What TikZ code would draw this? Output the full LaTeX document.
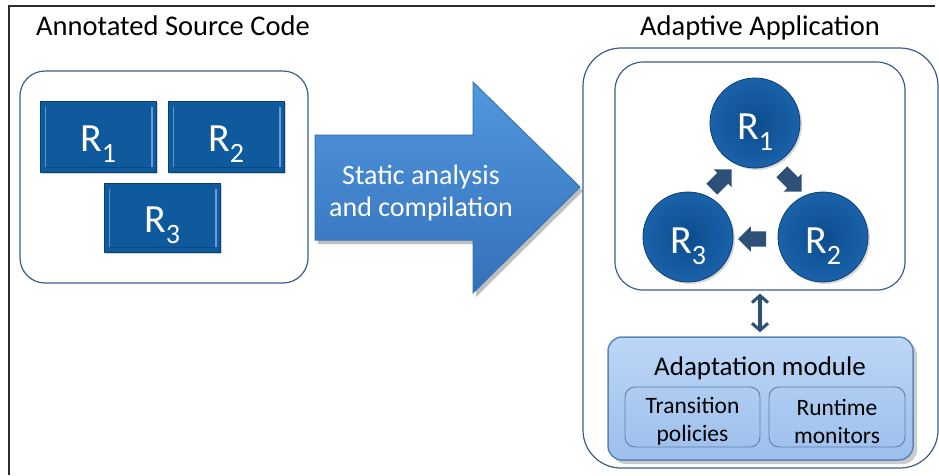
\documentclass[tikz,border=0pt]{standalone}
\usepackage{fontspec}
\setmainfont{Carlito}
\usetikzlibrary{shapes.arrows,shadows,arrows.meta}

\definecolor{framegray}{HTML}{2B2B2B}
\definecolor{boxline}{HTML}{3B5E86}
\definecolor{rface}{HTML}{0F5A9C}
\definecolor{redge}{HTML}{0A3F73}
\definecolor{rhigh}{HTML}{7FB0E0}
\definecolor{ballin}{HTML}{0C4C8E}
\definecolor{ballout}{HTML}{1A62AA}
\definecolor{smallarrow}{HTML}{2D5079}
\definecolor{bigtop}{HTML}{5198DF}
\definecolor{bigbot}{HTML}{3470B9}
\definecolor{bigedge}{HTML}{3A74B3}
\definecolor{modtop}{HTML}{BCD6F6}
\definecolor{modbot}{HTML}{9CBFEC}
\definecolor{modedge}{HTML}{5A86BC}
\definecolor{subedge}{HTML}{5E7FA6}

% R with a lowered, large subscript digit
\newcommand{\rsub}[1]{R\raisebox{-0.28em}{\fontsize{28}{28}\selectfont #1}}

\begin{document}
\begin{tikzpicture}[x=1pt,y=-1pt,
  title/.style={anchor=base west,font=\fontsize{28.5}{30}\selectfont,inner sep=0pt},
  container/.style={draw=boxline,line width=1.2pt,rounded corners=#1,inner sep=0pt},
  container/.default=25pt,
  rbox/.style={draw=redge,line width=1pt,fill=rface,inner sep=0pt,
    minimum width=116pt,minimum height=71pt,text=white,
    font=\fontsize{40}{42}\selectfont,text height=29pt,text depth=0pt,
    drop shadow={shadow xshift=2pt,shadow yshift=-2pt,opacity=0.35}},
  ball/.style={circle,draw=redge,line width=0.8pt,inner color=ballin,outer color=ballout,
    minimum size=90pt,inner sep=0pt,text=white,
    font=\fontsize{40}{42}\selectfont,text height=33pt,text depth=0pt,
    drop shadow={shadow xshift=2pt,shadow yshift=-2pt,opacity=0.3}},
  blockarrow/.style={single arrow,fill=smallarrow,draw=none,inner sep=7.5pt,
    minimum height=28pt,single arrow head extend=5pt,single arrow head indent=0pt},
  bigtext/.style={align=center,text=white,font=\fontsize{28}{32}\selectfont,inner sep=0pt},
  modbox/.style={draw=modedge,line width=1.5pt,rounded corners=14pt,
    top color=modtop,bottom color=modbot,inner sep=0pt,
    drop shadow={shadow xshift=4pt,shadow yshift=-4pt,opacity=0.4}},
  subbox/.style={draw=subedge,line width=0.9pt,rounded corners=10pt,inner sep=0pt,
    minimum height=60pt},
  subtext/.style={align=center,font=\fontsize{23.5}{28}\selectfont,inner sep=0pt},
  dblarrow/.style={smallarrow,line width=3.5pt,
    {Straight Barb[length=7pt,width=16pt,line width=3pt]}-{Straight Barb[length=7pt,width=16pt,line width=3pt]},
    shorten <=3pt,shorten >=4pt}
]
\useasboundingbox (0,0) rectangle (939,475);

% frame along the top and left sides
\draw[framegray,line width=1.3pt] (9,475) -- (9,6) -- (935,6);

% ---------- source side ----------
\node[title] (srctitle) at (36,35) {Annotated Source Code};
\node[container,minimum width=288pt,minimum height=212pt] (src) at (164,177) {};

\node[rbox] (r1) at (98,136.5) {\rsub{1}};
\node[rbox] (r2) at (226,136.5) {\rsub{2}};
\node[rbox,minimum height=69pt] (r3) at (162,217.5) {\rsub{3}};

% bevel highlights on the region boxes
\foreach \b in {r1,r2,r3}{
  \draw[rhigh,line width=1.4pt,opacity=0.7]
    ([shift={(6,6)}]\b.north west) -- ([shift={(6,-6)}]\b.south west);
  \draw[rhigh,line width=2pt,opacity=0.8]
    ([shift={(-5,6)}]\b.north east) -- ([shift={(-5,-6)}]\b.south east);
  \draw[redge,line width=1.2pt,opacity=0.6]
    ([shift={(6,-5)}]\b.south west) -- ([shift={(-6,-5)}]\b.south east);
}

% ---------- compilation arrow ----------
\fill[black,opacity=0.25] (318,139) -- (476,139) -- (476,86) -- (583,191)
  -- (476,297) -- (476,244) -- (318,244) -- cycle;
\shade[top color=bigtop,bottom color=bigbot,draw=bigedge,line width=1pt]
  (315,135) -- (473,135) -- (473,82) -- (580,187) -- (473,293) -- (473,240)
  -- (315,240) -- cycle;
\node[bigtext] (sa) at (421,193) {Static analysis\\and compilation};

% ---------- application side ----------
\node[title] (apptitle) at (640,35) {Adaptive Application};
\node[container=38pt,minimum width=355pt,minimum height=420pt] (app) at (760.5,258) {};
\node[container=28pt,minimum width=290pt,minimum height=228pt] (core) at (760,176) {};

\node[ball] (c1) at (755,123) {\rsub{1}};
\node[ball] (c2) at (823,237) {\rsub{2}};
\node[ball] (c3) at (688,237) {\rsub{3}};

\node[blockarrow,rotate=-45] (a12) at (789,179) {};
\node[blockarrow,rotate=180] (a23) at (756,239) {};
\node[blockarrow,rotate=45] (a31) at (719,182) {};

% adaptation module
\node[modbox,minimum width=305pt,minimum height=123pt] (am) at (760.5,398.5) {};
\node[anchor=base,font=\fontsize{27}{30}\selectfont,inner sep=0pt] (amtitle) at (760,375) {Adaptation module};
\node[subbox,minimum width=135pt] (tp) at (692.5,417) {};
\node[subbox,minimum width=136pt] (rm) at (837,417) {};
\node[subtext] (tpt) at (692.5,421) {Transition\\policies};
\node[subtext] (rmt) at (837,421) {Runtime\\monitors};

\draw[dblarrow] (core.south) -- (core.south |- am.north);
\end{tikzpicture}
\end{document}
